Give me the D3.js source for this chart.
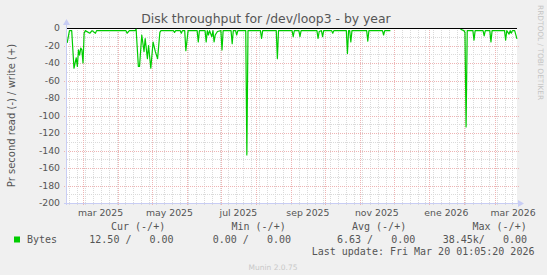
<!DOCTYPE html>
<html lang="es">
<head>
<meta charset="UTF-8">
<title>Disk throughput for /dev/loop3 - by year</title>
<script src="https://d3js.org/d3.v7.min.js"></script>
<style>
  html, body { margin: 0; padding: 0; background: #f0f0f0; }
  svg { display: block; }
</style>
</head>
<body>
<svg width="547" height="275"></svg>
<script>
// read rate (bytes/s), drawn as negative values; null = no data
const days = [
  "2025-02-15","2025-02-17","2025-02-19","2025-02-21","2025-02-23","2025-02-24","2025-02-25",
  "2025-02-26","2025-02-27","2025-02-28","2025-03-01","2025-03-02","2025-03-03","2025-03-07",
  "2025-03-09","2025-03-12","2025-03-13","2025-04-08","2025-04-09","2025-04-11","2025-04-16",
  "2025-04-17","2025-04-19","2025-04-20","2025-04-22","2025-04-24","2025-04-25","2025-04-27",
  "2025-04-28","2025-04-30","2025-05-02","2025-05-04","2025-05-06","2025-05-08","2025-05-09",
  "2025-05-20","2025-05-21","2025-05-22","2025-05-26","2025-05-27","2025-05-28","2025-05-30",
  "2025-05-31","2025-06-02","2025-06-10","2025-06-11","2025-06-12","2025-06-17","2025-06-18",
  "2025-06-19","2025-06-20","2025-06-21","2025-06-23","2025-06-24","2025-06-25","2025-06-26",
  "2025-06-28","2025-07-01","2025-07-02","2025-07-03","2025-07-10","2025-07-11","2025-07-12",
  "2025-07-14","2025-07-15","2025-07-16","2025-07-23","2025-07-24","2025-07-25","2025-08-05",
  "2025-08-06","2025-08-07","2025-08-19","2025-08-20","2025-08-21","2025-09-02","2025-09-03",
  "2025-09-04","2025-09-08","2025-09-09","2025-09-10","2025-09-24","2025-09-25","2025-09-26",
  "2025-09-28","2025-09-29","2025-09-30","2025-10-07","2025-10-08","2025-10-09","2025-10-20",
  "2025-10-21","2025-10-22","2025-10-23","2025-10-24","2025-10-25","2025-11-07","2025-11-08",
  "2025-11-09","2025-11-21","2025-11-22","2025-11-23","2025-11-28","2025-11-29","2026-01-28",
  "2026-01-29","2026-02-01","2026-02-02","2026-02-03","2026-02-04","2026-02-09","2026-02-10",
  "2026-02-11","2026-02-18","2026-02-19","2026-02-20","2026-02-24","2026-02-25","2026-02-26",
  "2026-03-09","2026-03-10","2026-03-11","2026-03-13","2026-03-14","2026-03-15","2026-03-16",
  "2026-03-18","2026-03-20"
];
const reads = [
  17, 3, 3, 46, 34, 44, 25,
  31, 23, 25, 40, 6, 3, 6,
  3, 6, 3, 3, 6, 3, 3,
  1.5, 44, 44, 8, 27, 12, 35,
  20, 46, 16, 27, 35, 5, 3,
  3, 5, 3, 3, 6, 3, 3,
  26, 3, 3, 16, 3, 3, 16,
  3, 8, 3, 10, 3, 16, 8,
  4, 3, 25, 3, 3, 18, 3,
  3, 8, 3, 3, 145, 3, 3,
  12, 3, 3, 35, 3, 3, 10,
  3, 3, 10, 3, 3, 12, 4,
  3, 10, 3, 3, 6, 3, 3,
  29, 3, 3, 16, 3, 3, 15,
  3, 3, 8, 3, 3, null, null,
  1.5, 3, 5, 113, 3, 3, 14,
  3, 3, 9, 3, 3, 16, 3,
  3, 14, 3, 7, 3, 6, 3,
  3, 12.5
];

const yTicks = [0, -20, -40, -60, -80, -100, -120, -140, -160, -180, -200];
const monthLabels = ["mar 2025", "may 2025", "jul 2025", "sep 2025", "nov 2025", "ene 2026", "mar 2026"];
const labelMonths = ["2025-03-01", "2025-05-01", "2025-07-01", "2025-09-01", "2025-11-01", "2026-01-01", "2026-03-01"];

const legendHead = ["Cur (-/+)", "Min (-/+)", "Avg (-/+)", "Max (-/+)"];
const legendVals = ["12.50 /   0.00", " 0.00 /   0.00", " 6.63 /   0.00", "38.45k/   0.00"];

const parse = d3.timeParse("%Y-%m-%d");
const svg = d3.select("svg");

const pL = 67, pR = 517, pT = 28, pB = 203;
const start = new Date(2025, 1, 14, 20, 0), end = new Date(2026, 2, 20, 1, 5);

const x = d3.scaleTime().domain([start, end]).range([pL, pR]);
const y = d3.scaleLinear().domain([-200, 0]).range([pB, pT]);

const axisCol = "#c8cdf4", majorCol = "#eeb4b4", minorCol = "#dadada", textCol = "#555";
const px = v => Math.round(v) + 0.5;

// plot background
svg.append("rect").attr("x", pL).attr("y", pT)
  .attr("width", pR - pL).attr("height", pB - pT).attr("fill", "#fff");

const grid = svg.append("g").attr("fill", "none").attr("stroke-dasharray", "1,1");

// minor grid
d3.range(-190, 0, 20).forEach(v => {
  grid.append("line").attr("x1", pL).attr("x2", pR)
    .attr("y1", px(y(v))).attr("y2", px(y(v))).attr("stroke", minorCol);
});
d3.timeMonday.range(start, end).forEach(d => {
  grid.append("line").attr("x1", px(x(d))).attr("x2", px(x(d)))
    .attr("y1", pT).attr("y2", pB).attr("stroke", minorCol);
  svg.append("line").attr("x1", px(x(d))).attr("x2", px(x(d)))
    .attr("y1", pB).attr("y2", pB + 2).attr("stroke", minorCol);
});

// major grid
yTicks.filter(v => v !== 0 && v !== -200).forEach(v => {
  grid.append("line").attr("x1", pL - 3).attr("x2", pR + 2)
    .attr("y1", px(y(v))).attr("y2", px(y(v))).attr("stroke", majorCol);
});
d3.timeMonth.range(d3.timeMonth.ceil(start), end).forEach(d => {
  grid.append("line").attr("x1", px(x(d))).attr("x2", px(x(d)))
    .attr("y1", pT).attr("y2", pB + 3).attr("stroke", majorCol);
});

// y tick labels
svg.append("g").selectAll("text").data(yTicks).join("text")
  .attr("x", 60).attr("y", d => y(d) + 3.3)
  .attr("text-anchor", "end")
  .attr("font-family", "DejaVu Sans").attr("font-size", 9.3)
  .attr("fill", textCol)
  .text(d => d);

// x tick labels centred in their month
svg.append("g").selectAll("text").data(monthLabels).join("text")
  .attr("x", (d, i) => {
    const m = parse(labelMonths[i]);
    return (x(m) + x(d3.timeMonth.offset(m, 1))) / 2;
  })
  .attr("y", 216)
  .attr("text-anchor", "middle")
  .attr("font-family", "DejaVu Sans").attr("font-size", 9.3)
  .attr("fill", textCol)
  .text(d => d);

// zero line
svg.append("line").attr("x1", pL).attr("x2", pR)
  .attr("y1", px(y(0))).attr("y2", px(y(0)))
  .attr("stroke", "#000");

// series
const series = days.map((d, i) => ({ date: parse(d), value: reads[i] }));
const line = d3.line()
  .defined(d => d.value !== null)
  .x(d => x(d.date))
  .y(d => y(-d.value));
svg.append("path").datum(series)
  .attr("fill", "none").attr("stroke", "#00cc00").attr("stroke-width", 1.2)
  .attr("stroke-linejoin", "round")
  .attr("d", line);

// axes with arrows
svg.append("line").attr("x1", px(pL - 1)).attr("x2", px(pL - 1))
  .attr("y1", pB + 2).attr("y2", pT - 4).attr("stroke", axisCol);
svg.append("line").attr("x1", pL - 3).attr("x2", pR + 2)
  .attr("y1", px(pB)).attr("y2", px(pB)).attr("stroke", axisCol);
svg.append("path").attr("fill", axisCol)
  .attr("d", `M${pL - 4},${pT - 3} L${pL + 3},${pT - 3} L${pL - 0.5},${pT - 9} Z`);
svg.append("path").attr("fill", axisCol)
  .attr("d", `M${pR + 1},${pB - 3} L${pR + 1},${pB + 4} L${pR + 7},${pB + 0.5} Z`);

// title
svg.append("text")
  .attr("x", 266).attr("y", 22.5)
  .attr("text-anchor", "middle")
  .attr("font-family", "DejaVu Sans").attr("font-size", 12.4)
  .attr("fill", textCol)
  .text("Disk throughput for /dev/loop3 - by year");

// y axis title
svg.append("text")
  .attr("transform", `translate(15,${(pT + pB) / 2}) rotate(-90)`)
  .attr("text-anchor", "middle")
  .attr("font-family", "DejaVu Sans").attr("font-size", 10)
  .attr("fill", textCol)
  .text("Pr second read (-) / write (+)");

// side watermark
svg.append("text")
  .attr("transform", "translate(538,5) rotate(90)")
  .attr("font-family", "DejaVu Sans").attr("font-size", 7.4)
  .attr("fill", "#c4c4c4")
  .text("RRDTOOL / TOBI OETIKER");

// legend
const mono = "DejaVu Sans Mono";
svg.append("rect").attr("x", 14).attr("y", 236.5).attr("width", 6).attr("height", 6)
  .attr("fill", "#00cc00");
svg.append("text").attr("x", 27).attr("y", 242.5)
  .attr("font-family", mono).attr("font-size", 10).attr("fill", textCol)
  .text("Bytes");
const headX = [111, 231.5, 352, 472.5];
const valX = [89.3, 206.7, 331, 442.7];
legendHead.forEach((h, i) => {
  svg.append("text").attr("x", headX[i]).attr("y", 229.5)
    .attr("font-family", mono).attr("font-size", 10).attr("fill", textCol)
    .style("white-space", "pre")
    .text(h);
  svg.append("text").attr("x", valX[i]).attr("y", 242.5)
    .attr("font-family", mono).attr("font-size", 10).attr("fill", textCol)
    .style("white-space", "pre")
    .text(legendVals[i]);
});
svg.append("text").attr("x", 311.7).attr("y", 254.5)
  .attr("font-family", mono).attr("font-size", 10).attr("fill", textCol)
  .style("white-space", "pre")
  .text("Last update: Fri Mar 20 01:05:20 2026");

svg.append("text").attr("x", 273).attr("y", 270)
  .attr("text-anchor", "middle")
  .attr("font-family", "DejaVu Sans").attr("font-size", 7.5)
  .attr("fill", "#c8c8c8")
  .text("Munin 2.0.75");
</script>
</body>
</html>
